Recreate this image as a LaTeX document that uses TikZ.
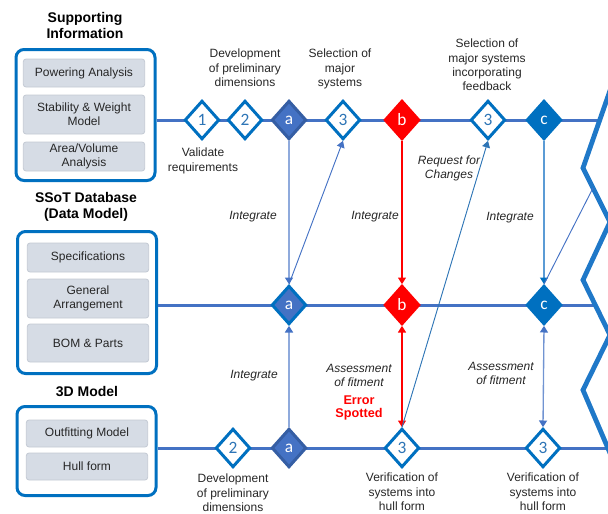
\documentclass[tikz,border=0pt]{standalone}
\usepackage{fontspec}
\setmainfont{Liberation Sans}
\newfontfamily\digitfont{Carlito}
\usetikzlibrary{arrows.meta, shapes.geometric, calc}
\definecolor{frameblue}{HTML}{0070C0}
\definecolor{lanecol}{HTML}{4472C4}
\definecolor{lanedark}{HTML}{2F5597}
\definecolor{numblue}{HTML}{2E75B6}
\definecolor{paleblue}{HTML}{8FAADC}
\definecolor{midblue}{HTML}{5B9BD5}
\definecolor{boxfill}{HTML}{D6DCE5}
\definecolor{boxline}{HTML}{C3C9D3}
\definecolor{zigcol}{HTML}{1F78C8}
\definecolor{ink}{HTML}{262626}
\definecolor{alarm}{HTML}{FF0000}

\begin{document}
\begin{tikzpicture}[x=0.75pt, y=-0.75pt,
    frame/.style={draw=frameblue, line width=2.25pt, rounded corners=6pt,
                  minimum width=104.25pt},
    item/.style={draw=boxline, fill=boxfill, rounded corners=2pt, line width=0.6pt,
                 minimum width=91pt, align=center, inner sep=1pt, text=ink,
                 font=\fontsize{9}{10.5}\selectfont},
    title/.style={align=center, font=\fontsize{10.5}{12}\selectfont\bfseries},
    gate/.style={diamond, draw=frameblue, fill=white, line width=2.25pt,
                 minimum width=26pt, minimum height=29pt, inner sep=0pt,
                 text=numblue, font=\digitfont\fontsize{13}{13}\selectfont},
    gatea/.style={gate, fill=lanecol, draw=lanedark!70!lanecol, text=white},
    gateb/.style={gate, fill=alarm, draw=alarm, text=white},
    gatec/.style={gate, fill=frameblue, draw=frameblue, text=white},
    lane/.style={draw=lanecol, line width=2.25pt},
    note/.style={align=center, text=ink, font=\fontsize{9}{10.8}\selectfont},
    remark/.style={align=center, text=ink, font=\fontsize{9}{10.5}\selectfont\itshape},
    tip/.style={-{Triangle[width=6pt, length=5pt, color=#1]}},
    tip/.default=lanecol,
    tips/.style={{Triangle[width=6pt, length=5pt, color=#1]}-{Triangle[width=6pt, length=5pt, color=#1]}},
    tips/.default=lanecol
  ]
    \useasboundingbox (0,0) rectangle (608,514);

    % left-hand sources
    \node[title] (supt) at (85,25) {Supporting\\Information};
    \node[frame, minimum height=98.25pt] (sup) at (85.5,115) {};
    \node[item, minimum height=21pt]    (pow)  at (84,73)    {Powering Analysis};
    \node[item, minimum height=29.25pt] (stab) at (84,114.5) {Stability \& Weight\\Model};
    \node[item, minimum height=21.75pt] (area) at (84,156.5) {Area/Volume\\Analysis};

    \node[title] (dbt) at (86,207) {SSoT Database\\(Data Model)};
    \node[frame, minimum height=106.5pt] (db) at (87,302.5) {};
    \node[item, minimum height=21.75pt] (spec) at (88,257.5) {Specifications};
    \node[item, minimum height=29.25pt] (ga)   at (88,298.5) {General\\Arrangement};
    \node[item, minimum height=28.5pt]  (bom)  at (88,343)   {BOM \& Parts};

    \node[title] (cadt) at (87,392) {3D Model};
    \node[frame, minimum height=66.75pt] (cad) at (86.5,451) {};
    \node[item, minimum height=20.25pt] (outf) at (87,433.5) {Outfitting Model};
    \node[item, minimum height=20.25pt] (hull) at (87,466.5) {Hull form};

    % lanes and break
    \coordinate (zt) at (600,120);
    \coordinate (zm) at (595,305);
    \coordinate (zb) at (608,448);
    \coordinate (zc) at (593,188);
    \draw[lane] (sup.east |- zt) -- (zt);
    \draw[lane] (db.east |- zm) -- (zm);
    \draw[lane] (cad.east |- zb) -- (zb);
    \draw[zigcol, line width=3.6pt] (613,82) -- (583,168) -- (610,222) -- (583,280)
      -- (610,335) -- (583,390) -- (613,460);

    % milestones
    \node[gate]  (t1)  at (202,120) {1};
    \node[gate]  (t2)  at (245,120) {2};
    \node[gatea] (ta)  at (289,120) {a};
    \node[gate]  (t3)  at (343,120) {3};
    \node[gateb] (tb)  at (402,120) {b};
    \node[gate]  (t3b) at (488,120) {3};
    \node[gatec] (tc)  at (544,120) {c};

    \node[gatea, draw=frameblue] (ma) at (289,305) {a};
    \node[gateb] (mb) at (402,305) {b};
    \node[gatec] (mc) at (544,305) {c};

    \node[gate]  (b2)  at (233,448) {2};
    \node[gatea] (ba)  at (289,448) {a};
    \node[gate]  (b3)  at (402,448) {3};
    \node[gate]  (b3c) at (543,448) {3};

    % exchanges
    \draw[tip, paleblue, line width=1.2pt] (ta.south) -- (ma.north);
    \draw[tip, lanecol, line width=0.7pt] (ma.north) -- (t3.south);
    \draw[tip=alarm, alarm, line width=0.8pt] (tb.south) -- (mb.north);
    \draw[tips=alarm, alarm, line width=0.8pt] (mb.south) -- (b3.north);
    \draw[tip=numblue, numblue, line width=0.7pt] (b3.north) -- (t3b.south);
    \draw[tip=frameblue, midblue, line width=1pt] (tc.south) -- (mc.north);
    \draw[lanecol, line width=0.7pt] (zc) -- (mc.north);
    \draw[tips, paleblue!60!lanecol, line width=1pt] (mc.south) -- (b3c.north);
    \draw[tip, paleblue, line width=1.2pt] (ba.north) -- (ma.south);

    % captions
    \node[note] (devt) at (245,68) {Development\\of preliminary\\dimensions};
    \node[note] (selt) at (340,69) {Selection of\\major\\systems};
    \node[note] (self) at (487,65) {Selection of\\major systems\\incorporating\\feedback};
    \node[note] (val)  at (203,161) {Validate\\requirements};
    \node[remark] (int1) at (253,217) {Integrate};
    \node[remark] (int2) at (375,217) {Integrate};
    \node[remark] (int3) at (510,218) {Integrate};
    \node[remark] (int4) at (254,376) {Integrate};
    \node[remark] (req)  at (449,168) {Request for\\Changes};
    \node[remark] (ass1) at (359,375) {Assessment\\of fitment};
    \node[note, text=alarm, font=\fontsize{9.5}{10}\selectfont\bfseries] (err) at (359,408) {Error\\Spotted};
    \node[remark] (ass2) at (501,373) {Assessment\\of fitment};
    \node[note] (devb) at (233,493) {Development\\of preliminary\\dimensions};
    \node[note] (ver1) at (402,492) {Verification of\\systems into\\hull form};
    \node[note] (ver2) at (543,492) {Verification of\\systems into\\hull form};
  \end{tikzpicture}
\end{document}
